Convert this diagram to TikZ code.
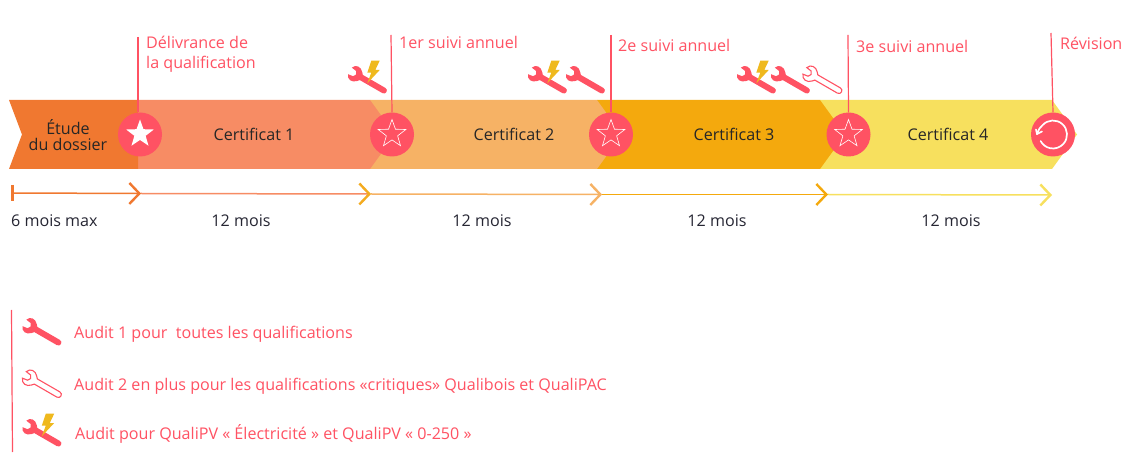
\documentclass[tikz,border=0pt]{standalone}
\usepackage{fontspec}
\setmainfont{Open Sans}
\usetikzlibrary{arrows.meta,shapes.geometric}
\definecolor{cOrange}{HTML}{F07830}
\definecolor{cSalmon}{HTML}{F78C64}
\definecolor{cPeach}{HTML}{F6B265}
\definecolor{cAmber}{HTML}{F4A90D}
\definecolor{cYellow}{HTML}{F7E05E}
\definecolor{cRed}{HTML}{FF5263}
\definecolor{cBolt}{HTML}{EFB91E}
\definecolor{cInk}{HTML}{262633}
\tikzset{
  x=1pt,y=-1pt,
  basetext/.style={font=\fontsize{16.1}{19}\selectfont,inner sep=0pt},
  redlabel/.style={basetext,text=cRed,anchor=west},
  darklabel/.style={basetext,text=cInk},
  disc/.style={circle,fill=cRed,minimum size=44pt,inner sep=0pt},
  starshape/.style={star,star points=5,star point ratio=2.45,minimum size=29pt,inner sep=0pt},
  openstar/.style={starshape,draw=white,line width=.6pt},
  fullstar/.style={starshape,fill=white},
  stem/.style={draw=cRed,line width=1.2pt},
  span/.style={line width=1.5pt},
  tip/.style={-{Straight Barb[color=#1,length=10pt,width=21pt,line width=2.4pt]}},
  pics/spanner/.style={code={
    \path[#1,rotate=-30] (-8.2,-3.8) -- (-2.8,-3) -- (-1,0) -- (-2.8,3) -- (-8.2,3.8)
      .. controls (-6.6,8.8) and (-0.5,9.4) .. (3,5.2) -- (5,3) -- (31,3)
      .. controls (35,3) and (35,-3) .. (31,-3) -- (5,-3) -- (3,-5.2)
      .. controls (-0.5,-9.4) and (-6.6,-8.8) .. (-8.2,-3.8) -- cycle;
  }},
  pics/bolt/.style={code={
    \fill[cBolt] (14.3,-14.3) -- (22.7,-14.3) -- (18.3,-5) -- (22.7,-5) -- (10.3,8.3)
      -- (14.3,-2.3) -- (10.3,-2.3) -- cycle;
  }},
  solidw/.style={fill=cRed},
  hollow/.style={draw=cRed,fill=white,line width=1.1pt},
}
\begin{document}
\begin{tikzpicture}
\useasboundingbox[fill=white] (0,0) rectangle (1130,462);
% band
\fill[cYellow] (820,100) -- (1052,100) -- (1077,134.5) -- (1052,169) -- (820,169) -- cycle;
\fill[cAmber] (597,100) -- (820,100) -- (845,134.5) -- (820,169) -- (597,169) -- cycle;
\fill[cPeach] (370,100) -- (597,100) -- (622,134.5) -- (597,169) -- (370,169) -- cycle;
\fill[cSalmon] (138,100) -- (370,100) -- (395,134.5) -- (370,169) -- (138,169) -- cycle;
\fill[cOrange] (9,100) -- (138,100) -- (138,169) -- (9,169) -- (22,134.5) -- cycle;
\node[darklabel,align=center,text=black!85] (etude) at (68,135) {Étude\\[-2.5pt]du dossier};
\node[darklabel,text=black!85] (c1) at (254,134) {Certificat 1};
\node[darklabel,text=black!85] (c2) at (514,134) {Certificat 2};
\node[darklabel,text=black!85] (c3) at (734,134) {Certificat 3};
\node[darklabel,text=black!85] (c4) at (948,134) {Certificat 4};
% stems
\coordinate (s1) at (138,37);
\coordinate (s2) at (391,35);
\coordinate (s3) at (611,35);
\coordinate (s4) at (848,35);
\coordinate (s5) at (1051,33);
\node[disc] (d1) at (140,134.5) {};
\node[disc] (d2) at (392,134.5) {};
\node[disc] (d3) at (611,134.5) {};
\node[disc] (d4) at (848.5,134.5) {};
\node[disc] (d5) at (1053,134.5) {};
\draw[stem] (s1) -- (d1.north-|s1);
\draw[stem] (s2) -- (d2.north);
\draw[stem] (s3) -- (d3.north);
\draw[stem] (s4) -- (d4.north);
\draw[stem] (s5) -- (d5.north);
\node[fullstar] (st1) at (140,134) {};
\node[openstar] (st2) at (392,134) {};
\node[openstar] (st3) at (611,134) {};
\node[openstar] (st4) at (848.5,134) {};
\draw[white,line width=1.7pt,line join=round,line cap=round]
  (1036,129.5) -- (1037,134) -- (1042,131.5);
\draw[white,line width=1.7pt,line cap=round]
  (1037,134) .. controls (1039,129) and (1040,127) .. ([shift={(222:14)}]d5.center)
  arc[start angle=222,end angle=512,radius=14];
% labels
\node[redlabel] (l1a) at (146,42) {Délivrance de};
\node[redlabel] (l1b) at (146,64) {la qualification};
\node[redlabel] (l2) at (399,42) {1er suivi annuel};
\node[redlabel] (l3) at (618,45) {2e suivi annuel};
\node[redlabel] (l4) at (856,46) {3e suivi annuel};
\node[redlabel] (l5) at (1060,43) {Révision};
% wrenches
\pic at (357,75) {spanner=solidw};
\pic at (357,75) {bolt};
\pic at (537,75) {spanner=solidw};
\pic at (537,75) {bolt};
\pic at (575,75) {spanner=solidw};
\pic at (746,75) {spanner=solidw};
\pic at (746,75) {bolt};
\pic at (780,75) {spanner=solidw};
\pic at (812,75) {spanner=hollow};
% time line
\coordinate (t0) at (12,193);
\coordinate (t1) at (141,193.5);
\coordinate (t2) at (371,194);
\coordinate (t3) at (602,194.5);
\coordinate (t4) at (828,194.5);
\coordinate (t5) at (1052,195);
\draw[cYellow,span,tip=cYellow] (t4) -- (t5);
\draw[cAmber,span,tip=cAmber] (t3) -- (t4);
\draw[cPeach,span,tip=cPeach] (t2) -- (t3);
\draw[cSalmon,span,tip=cAmber!80!cPeach] (t1) -- (t2);
\draw[cOrange,span,tip=cOrange] (t0) -- (t1);
\draw[cOrange,line width=2.2pt] (12.5,185) -- (12.5,201);
\node[darklabel,anchor=west] (m0) at (11,221) {6 mois max};
\node[darklabel] (m1) at (241,221) {12 mois};
\node[darklabel] (m2) at (482,221) {12 mois};
\node[darklabel] (m3) at (717,221) {12 mois};
\node[darklabel] (m4) at (951,221) {12 mois};
% legend
\coordinate (lg0) at (11.5,310);
\coordinate (lg1) at (12.5,452);
\draw[stem] (lg0) -- (lg1);
\pic at (31.5,327) {spanner=solidw};
\pic at (31.5,379) {spanner=hollow};
\pic at (31.5,428) {spanner=solidw};
\pic at (31.5,428) {bolt};
\node[redlabel] (a1) at (74,334) {Audit 1 pour\ \ toutes les qualifications};
\node[redlabel] (a2) at (74,386) {Audit 2 en plus pour les qualifications «critiques» Qualibois et QualiPAC};
\node[redlabel] (a3) at (75,434) {Audit pour QualiPV « Électricité » et QualiPV « 0-250 »};
\end{tikzpicture}
\end{document}
